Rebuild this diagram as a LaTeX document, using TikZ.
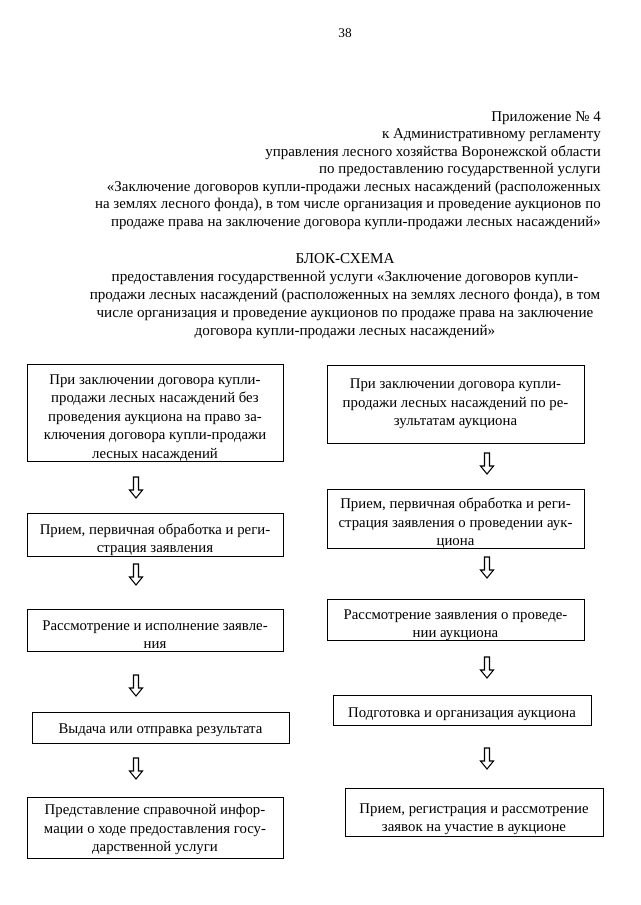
\documentclass[tikz,border=0pt]{standalone}
\usepackage{fontspec}
\setmainfont{Liberation Serif}
\newcommand\lowstrut[1]{\rule{0pt}{#1}}
\begin{document}
\begin{tikzpicture}[x=0.75pt,y=-0.75pt,
  hdr/.style={inner sep=0pt, font=\fontsize{11.2}{13.15}\selectfont},
  ttl/.style={inner sep=0pt, font=\fontsize{11.35}{13.5}\selectfont},
  box/.style={draw, line width=0.6pt, align=center, inner xsep=2pt, inner ysep=0pt,
    font=\fontsize{11.1}{13.9}\selectfont},
  pics/downarrow/.style={code={
    \draw[line width=0.8pt, line join=miter, fill=white]
      (-2.5,0) -- (2.5,0) -- (2.5,13) -- (6.5,13) -- (0,21) -- (-6.5,13) -- (-2.5,13) -- cycle;}}]
\useasboundingbox (0,0) rectangle (640,905);
\fill[white] (0,0) rectangle (640,905);

\node[hdr, font=\fontsize{10}{11}\selectfont] (pnum) at (345,33) {38};

\node[hdr, align=right, anchor=north east] (appx) at (601,111) {%
Приложение № 4\\
к Административному регламенту\\
управления лесного хозяйства Воронежской области\\
по предоставлению государственной услуги\\
«Заключение договоров купли-продажи лесных насаждений (расположенных\\
на землях лесного фонда), в том числе организация и проведение аукционов по\\
продаже права на заключение договора купли-продажи лесных насаждений»};

\node[ttl, align=center, anchor=north] (title) at (345,253) {%
БЛОК-СХЕМА\\
предоставления государственной услуги «Заключение договоров купли-\\
продажи лесных насаждений (расположенных на землях лесного фонда), в том\\
числе организация и проведение аукционов по продаже права на заключение\\
договора купли-продажи лесных насаждений»};

% left column
\node[box, minimum width=192pt, minimum height=71.25pt] (L1) at (155,412.5) {%
\lowstrut{15pt}При заключении договора купли-\\
продажи лесных насаждений без\\
проведения аукциона на право за-\\
ключения договора купли-продажи\\
лесных насаждений};
\node[box, minimum width=192pt, minimum height=30pt] (L2) at (155,534.5) {%
\lowstrut{16pt}Прием, первичная обработка и реги-\\
страция заявления};
\node[box, minimum width=192pt, minimum height=31.5pt] (L3) at (155,630) {%
\lowstrut{14.5pt}Рассмотрение и исполнение заявле-\\
ния};
\node[box, minimum width=192.75pt, minimum height=23.25pt] (L4) at (160.5,727.5) {%
\lowstrut{12pt}Выдача или отправка результата};
\node[box, minimum width=192pt, minimum height=45.75pt] (L5) at (155,827.5) {%
\lowstrut{11pt}Представление справочной инфор-\\
мации о ходе предоставления госу-\\
дарственной услуги};

% right column
\node[box, minimum width=192.75pt, minimum height=58.5pt] (R1) at (455.5,404) {%
При заключении договора купли-\\
продажи лесных насаждений по ре-\\
зультатам аукциона};
\node[box, minimum width=192.75pt, minimum height=43.5pt] (R2) at (455.5,519) {%
\lowstrut{14.5pt}Прием, первичная обработка и реги-\\
страция заявления о проведении аук-\\
циона};
\node[box, minimum width=192.75pt, minimum height=30pt] (R3) at (455.5,620) {%
\lowstrut{15pt}Рассмотрение заявления о проведе-\\
нии аукциона};
\node[box, minimum width=193.5pt, minimum height=22.5pt] (R4) at (462,710) {%
\lowstrut{13pt}Подготовка и организация аукциона};
\node[box, minimum width=193.5pt, minimum height=36pt] (R5) at (474,812) {%
\lowstrut{18pt}Прием, регистрация и рассмотрение\\
заявок на участие в аукционе};

% arrows
\pic (al1) at (136,477) {downarrow};
\pic (al2) at (136,564) {downarrow};
\pic (al3) at (136,675) {downarrow};
\pic (al4) at (136,758) {downarrow};
\pic (ar1) at (487,453) {downarrow};
\pic (ar2) at (487,557) {downarrow};
\pic (ar3) at (487,657) {downarrow};
\pic (ar4) at (487,748) {downarrow};
\end{tikzpicture}
\end{document}
